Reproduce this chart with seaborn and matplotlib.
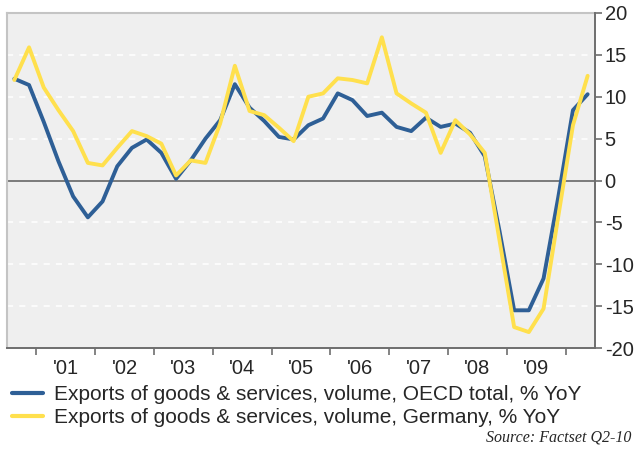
import numpy as np
import pandas as pd
import matplotlib
matplotlib.use("Agg")
import matplotlib.pyplot as plt
import seaborn as sns

# Quarterly export volume growth, % YoY, 2000Q3 .. 2010Q2
quarters = pd.period_range("2000Q3", "2010Q2", freq="Q")
oecd_total = [12.15, 11.4, 7.0, 2.3, -1.9, -4.4, -2.5, 1.7, 3.9, 4.9,
              3.3, 0.2, 2.4, 5.0, 7.2, 11.5, 8.7, 7.1, 5.2, 4.9,
              6.6, 7.4, 10.4, 9.6, 7.7, 8.1, 6.4, 5.9, 7.5, 6.4,
              6.8, 5.7, 2.9, -6.0, -15.5, -15.5, -11.7, -2.0, 8.4, 10.3]
germany = [12.0, 15.9, 11.1, 8.4, 5.9, 2.1, 1.8, 3.9, 5.9, 5.3,
           4.4, 0.6, 2.4, 2.1, 6.8, 13.7, 8.3, 7.8, 6.3, 4.7,
           10.0, 10.4, 12.2, 12.0, 11.6, 17.1, 10.4, 9.2, 8.1, 3.3,
           7.2, 5.5, 3.3, -7.1, -17.5, -18.1, -15.3, -4.3, 6.6, 12.5]
series_names = ["Exports of goods & services, volume, OECD total, % YoY",
                "Exports of goods & services, volume, Germany, % YoY"]
year_labels = ["'01", "'02", "'03", "'04", "'05", "'06", "'07", "'08", "'09"]
y_ticks = [-20, -15, -10, -5, 0, 5, 10, 15, 20]

# quarter mid-points as fractional years
xpos = np.array([q.year + (q.quarter - 1) * 0.25 + 0.125 for q in quarters])
df = pd.DataFrame({
    "t": np.concatenate([xpos, xpos]),
    "value": oecd_total + germany,
    "series": [series_names[0]] * len(xpos) + [series_names[1]] * len(xpos),
})

sns.set_style("white")
plt.rcParams["font.family"] = ["Liberation Sans", "DejaVu Sans"]

BLUE = "#2e5f96"
YELLOW = "#ffe04d"

fig = plt.figure(figsize=(6.34, 4.5), dpi=100)
ax = fig.add_axes([7 / 634, 1 - 348 / 450, 588 / 634, 335 / 450])
ax.set_facecolor("#efefef")

# white dashed gridlines and the zero line
for v in [-15, -10, -5, 5, 10, 15]:
    ax.axhline(v, color="white", lw=1.1, ls=(0, (4, 4)), zorder=1)
ax.axhline(0, color="#7a7a7a", lw=1.4, zorder=1)

sns.lineplot(data=df, x="t", y="value", hue="series",
             palette=[BLUE, YELLOW], linewidth=2.8, ax=ax, legend=False,
             zorder=3)

ax.set_xlim(2000.5, 2010.5)
ax.set_ylim(-20, 20)
ax.set_xlabel("")
ax.set_ylabel("")

# y axis on the right
ax.yaxis.tick_right()
ax.set_yticks(y_ticks)
ax.set_yticklabels([str(v) for v in y_ticks])
ax.tick_params(axis="y", which="major", direction="out", length=5, width=1.2,
               color="#6e6e6e", labelsize=14.5, pad=2, right=True, left=False)

# year boundaries as ticks, year names centred between them
years = np.arange(2001, 2011)
ax.set_xticks(years)
ax.set_xticklabels([""] * len(years))
ax.set_xticks(np.arange(2001, 2010) + 0.5, minor=True)
ax.set_xticklabels(year_labels, minor=True)
ax.tick_params(axis="x", which="major", direction="out", length=5, width=1.2,
               color="#6e6e6e", bottom=True)
ax.tick_params(axis="x", which="minor", length=0, labelsize=14.5, pad=8)

for side in ["top", "left"]:
    ax.spines[side].set_color("#c4c4c4")
    ax.spines[side].set_linewidth(1.5)
for side in ["right", "bottom"]:
    ax.spines[side].set_color("#6e6e6e")
    ax.spines[side].set_linewidth(1.4)
    ax.spines[side].set_zorder(4)

handles = [plt.Line2D([], [], color=BLUE, lw=3),
           plt.Line2D([], [], color=YELLOW, lw=3)]
fig.legend(handles, series_names, loc="upper left",
           bbox_to_anchor=(12 / 634, 1 - 385 / 450), frameon=False,
           fontsize=15, handlelength=1.5, handletextpad=0.53,
           labelspacing=0.2, borderpad=0, borderaxespad=0)

fig.text(631 / 634, 1 - 437 / 450, "Source: Factset Q2-10", ha="right",
         va="center", family=["Liberation Serif", "DejaVu Serif"],
         style="italic", fontsize=11.5)

fig.savefig("out.png", dpi=100, facecolor="white")
